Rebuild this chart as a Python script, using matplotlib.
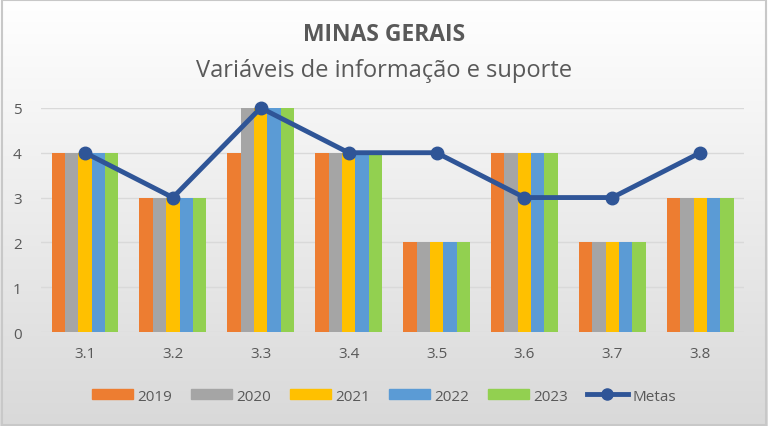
import numpy as np
import matplotlib
matplotlib.use("Agg")
import matplotlib.pyplot as plt
from matplotlib.lines import Line2D
from matplotlib.patches import Patch
from matplotlib.colors import LinearSegmentedColormap

categories = ["3.1", "3.2", "3.3", "3.4", "3.5", "3.6", "3.7", "3.8"]
years = ["2019", "2020", "2021", "2022", "2023"]
v2019 = [4, 3, 4, 4, 2, 4, 2, 3]
v2020 = [4, 3, 5, 4, 2, 4, 2, 3]
v2021 = [4, 3, 5, 4, 2, 4, 2, 3]
v2022 = [4, 3, 5, 4, 2, 4, 2, 3]
v2023 = [4, 3, 5, 4, 2, 4, 2, 3]
metas = [4, 3, 5, 4, 4, 3, 3, 4]
series = [v2019, v2020, v2021, v2022, v2023]
colors = ["#ED7D31", "#A5A5A5", "#FFC000", "#5B9BD5", "#92D050"]
line_color = "#2F5597"
text_color = "#595959"

plt.rcParams['font.family'] = ['Open Sans', 'DejaVu Sans']

fig = plt.figure(figsize=(7.68, 4.27), dpi=100)

# background gradient
bg = fig.add_axes([0, 0, 1, 1], zorder=-10)
grad = np.linspace(0, 1, 256).reshape(-1, 1)
cmap = LinearSegmentedColormap.from_list("bg", ["#FFFFFF", "#D9D9D9"])
bg.imshow(grad, aspect='auto', cmap=cmap, extent=[0, 1, 0, 1], origin='upper')
bg.set_xlim(0, 1); bg.set_ylim(0, 1)
bg.axis('off')
bg.add_patch(plt.Rectangle((0.002, 0.003), 0.996, 0.994, fill=False,
                           edgecolor="#C8C8C8", lw=1.5, transform=bg.transAxes))

ax = fig.add_axes([0.0534, 0.220, 0.9156, 0.525])
ax.set_facecolor('none')
x = np.arange(len(categories))
n = len(series)
w = 0.76 / n
for i, (vals, c, y) in enumerate(zip(series, colors, years)):
    ax.bar(x + (i - (n - 1) / 2) * w, vals, width=w, color=c, label=y, zorder=2)
ax.plot(x, metas, color=line_color, lw=3.5, marker='o', ms=9, zorder=3,
        clip_on=False, label="Metas")

ax.set_xlim(-0.5, len(categories) - 0.5)
ax.set_ylim(0, 5)
ax.set_yticks(range(0, 6))
ax.set_xticks(x)
ax.set_xticklabels(categories)
ax.grid(axis='y', color="#D9D9D9", lw=1, zorder=0)
for s in ax.spines.values():
    s.set_visible(False)
ax.tick_params(axis='both', length=0, colors=text_color, labelsize=11)
ax.tick_params(axis='x', pad=10)
ax.tick_params(axis='y', pad=14)

fig.text(0.5, 0.918, "MINAS GERAIS", ha='center', va='center', fontsize=16.5,
         fontweight='bold', color=text_color)
fig.text(0.5, 0.833, "Variáveis de informação e suporte", ha='center', va='center',
         fontsize=17, color=text_color)

handles = [Patch(color=c, label=y) for c, y in zip(colors, years)]
handles.append(Line2D([0], [0], color=line_color, lw=3.5, marker='o', ms=8, label="Metas"))
fig.legend(handles=handles, loc='center', bbox_to_anchor=(0.5, 0.07), ncol=6,
           frameon=False, fontsize=11, labelcolor=text_color, handlelength=2.7,
           handleheight=0.6, columnspacing=1.2, handletextpad=0.3)

fig.savefig("out.png", dpi=100)
